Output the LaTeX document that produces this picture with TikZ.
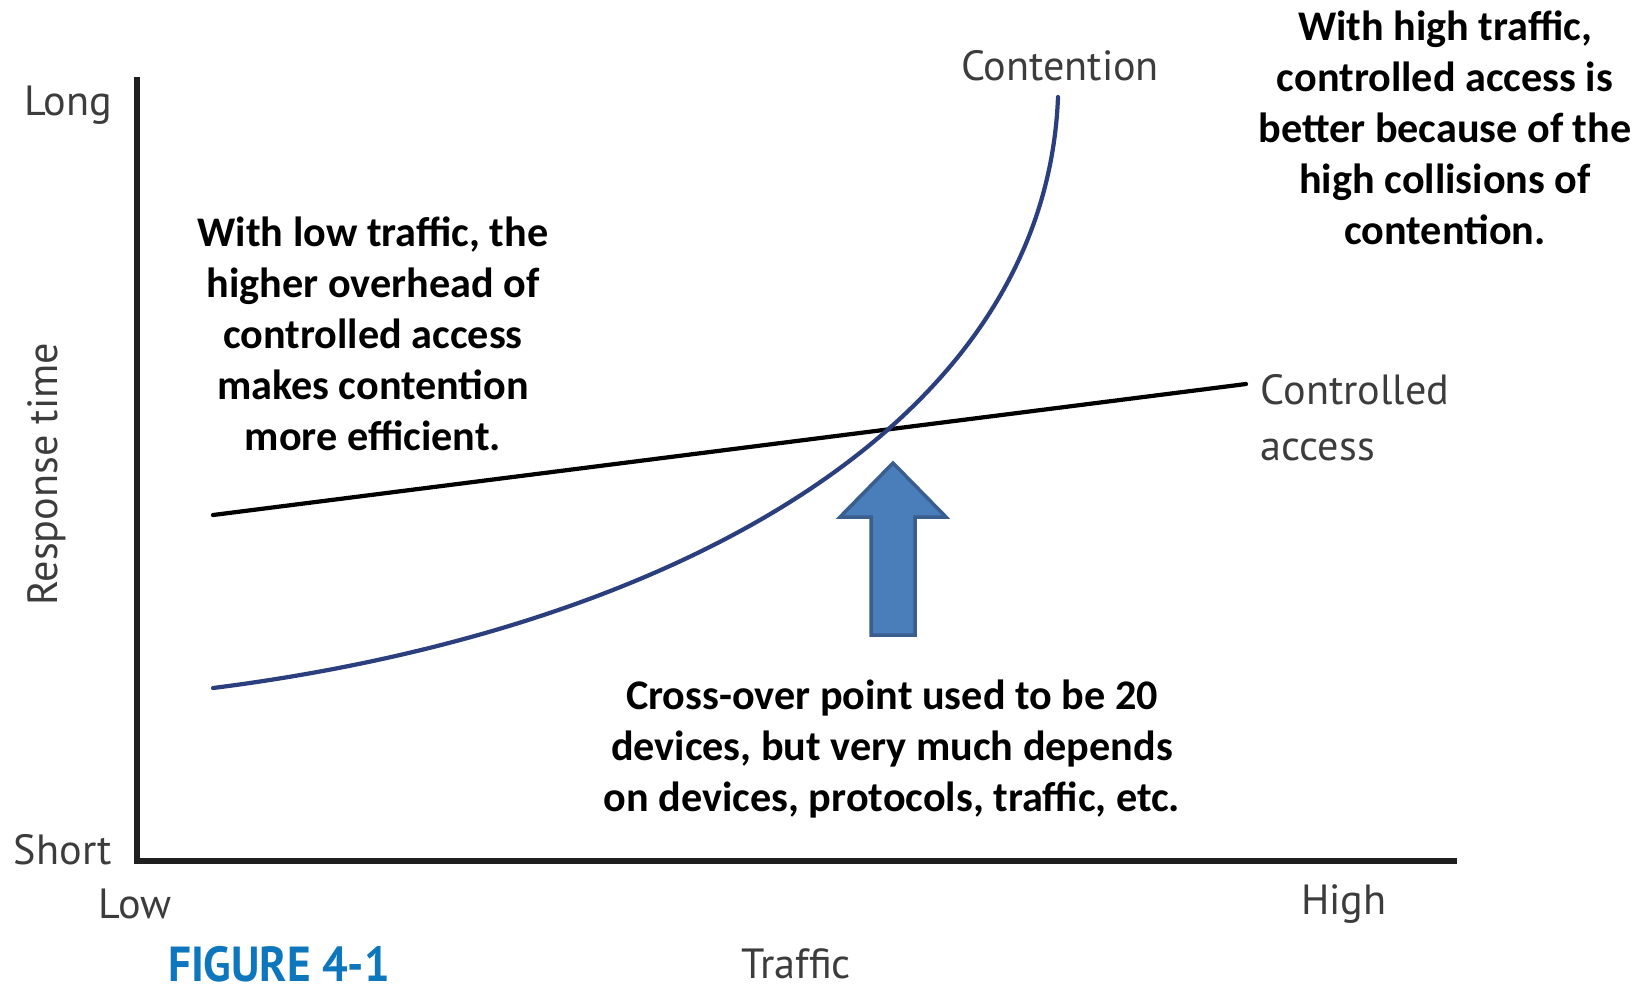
\documentclass[tikz,border=0pt]{standalone}
\usepackage{fontspec}
\setmainfont{Carlito}
\newfontfamily\axisfont{PT Sans}
\usetikzlibrary{positioning, calc}
\definecolor{Navy}{HTML}{2B3F7E}
\definecolor{ArrowFill}{HTML}{4A7EBB}
\definecolor{ArrowEdge}{HTML}{3A5F8F}
\definecolor{Caption}{HTML}{0E76BC}
\definecolor{AxisGray}{HTML}{3C3C3C}
\tikzset{
    note/.style={align=center, inner sep=0pt, text=black, font=\fontsize{12}{14.5}\selectfont\bfseries},
    axislabel/.style={inner sep=0pt, text=AxisGray, font=\axisfont\fontsize{12}{16}\selectfont},
    axisline/.style={line width=1.5pt, color=black!88},
    curve/.style={line width=1.2pt, line cap=round},
}
\begin{document}
\begin{tikzpicture}[x=0.01cm, y=-0.01cm]
    \useasboundingbox (0,0) rectangle (1649,990);

    % Achsen
    \draw[axisline] (137,77) -- (137,861) -- (1457,861);
    \node[axislabel] (long) at (68,105) {Long};
    \node[axislabel] (short) at (63,850) {Short};
    \node[axislabel] (low) at (135,904) {Low};
    \node[axislabel] (high) at (1344,904) {High};
    \node[axislabel] (traffic) at (796,964) {Traffic};
    \node[axislabel, rotate=90] (resp) at (47,474) {Response time};
    \node[inner sep=0pt, text=Caption, xscale=0.92, font=\axisfont\bfseries\fontsize{14}{16}\selectfont] (fig) at (279,964) {FIGURE 4-1};

    % Kurven
    \draw[curve, black] (213,515) -- (1246,384);
    \draw[curve, Navy] (213,688) .. controls (663,631) and (1045,430) .. (1058,97);
    \node[axislabel] (cont) at (1060,66) {Contention};
    \node[axislabel, align=left, anchor=west] (ctrl) at (1260,418) {Controlled\\access};

    % Pfeil zum Schnittpunkt
    \draw[line width=1pt, ArrowEdge, fill=ArrowFill, line join=miter]
        (893,463) -- (946,517) -- (915,517) -- (915,635) -- (871,635) -- (871,517) -- (840,517) -- cycle;

    % Texte
    \node[note] (high-txt) at (1445,128) {With high traffic,\\controlled access is\\better because of the\\high collisions of\\contention.};
    \node[note] (low-txt) at (373,334) {With low traffic, the\\higher overhead of\\controlled access\\makes contention\\more efficient.};
    \node[note] (cross-txt) at (892,749) {Cross-over point used to be 20\\devices, but very much depends\\on devices, protocols, traffic, etc.};
\end{tikzpicture}
\end{document}
